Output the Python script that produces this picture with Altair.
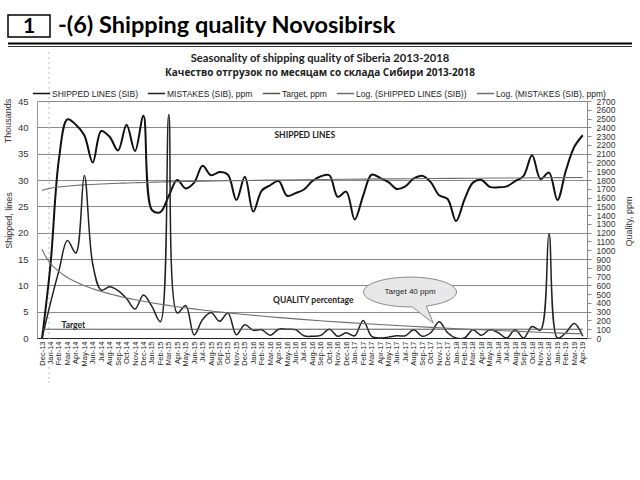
import altair as alt
import pandas as pd

# ---------------- data ----------------
MONTHS = [
    "Dec-13",
    "Jan-14", "Feb-14", "Mar-14", "Apr-14", "May-14", "Jun-14", "Jul-14", "Aug-14", "Sep-14", "Oct-14", "Nov-14", "Dec-14",
    "Jan-15", "Feb-15", "Mar-15", "Apr-15", "May-15", "Jun-15", "Jul-15", "Aug-15", "Sep-15", "Oct-15", "Nov-15", "Dec-15",
    "Jan-16", "Feb-16", "Mar-16", "Apr-16", "May-16", "Jun-16", "Jul-16", "Aug-16", "Sep-16", "Oct-16", "Nov-16", "Dec-16",
    "Jan-17", "Feb-17", "Mar-17", "Apr-17", "May-17", "Jun-17", "Jul-17", "Aug-17", "Sep-17", "Oct-17", "Nov-17", "Dec-17",
    "Jan-18", "Feb-18", "Mar-18", "Apr-18", "May-18", "Jun-18", "Jul-18", "Aug-18", "Sep-18", "Oct-18", "Nov-18", "Dec-18",
    "Jan-19", "Feb-19", "Mar-19", "Apr-19",
]

# shipped lines, thousands (left axis)
SHIPPED_K = [
    0, 14, 34, 41.5, 40.5, 38.5, 33.3, 39.3, 38.2, 35.6, 40.5, 35.5, 42.2,
    24.3, 23.9, 27, 30, 28.4, 29.5, 32.7, 30.9, 31.5, 31, 26.2, 30.6,
    24, 28, 29, 29.8, 27, 27.5, 28.2, 29.8, 30.7, 30.9, 26.8, 27.8,
    22.5, 27, 31, 30.4, 29.6, 28.3, 28.8, 30.3, 30.8, 29.6, 27.1, 26.4,
    22.2, 26.3, 29.5, 30, 28.7, 28.6, 28.8, 29.8, 30.8, 34.7, 30.2, 31.4,
    26.2, 31.8, 36.3, 38.5,
]

# mistakes, ppm (right axis)
MISTAKES_PPM = [
    0, 400, 770, 1110, 968, 1850, 840, 546, 584, 540, 450, 330, 490,
    360, 186, 2545, 285, 370, 35, 210, 290, 190, 285, 38, 150,
    87, 95, 30, 100, 100, 95, 25, 20, 30, 100, 20, 60,
    25, 200, 20, 0, 10, 25, 25, 95, 20, 60, 185, 60,
    0, 0, 95, 30, 95, 60, 0, 95, 0, 130, 90, 1190,
    0, 60, 165, 20,
]

TARGET_PPM = 100

SERIES = [
    "SHIPPED LINES (SIB)",
    "MISTAKES (SIB), ppm",
    "Target, ppm",
    "Log. (SHIPPED LINES (SIB))",
    "Log. (MISTAKES (SIB), ppm)",
]
COLORS = ["#111111", "#222222", "#555555", "#6e6e6e", "#6e6e6e"]

LEFT_TICKS = list(range(0, 46, 5))
RIGHT_TICKS = list(range(0, 2701, 100))

HEADER_NUM = "1"
HEADER_TEXT = "-(6) Shipping quality Novosibirsk"
TITLE_EN = "Seasonality of shipping quality of Siberia 2013-2018"
TITLE_RU = "Качество отгрузок по месяцам со склада Сибири 2013-2018"

FONT = "Liberation Sans"
HFONT = "Lato"

df = pd.DataFrame({
    "i": list(range(1, len(MONTHS) + 1)),
    "month": MONTHS,
    "ship": SHIPPED_K,
    "mist": MISTAKES_PPM,
    "target": [TARGET_PPM] * len(MONTHS),
})

# plot area in page pixels: x 37..587, y 101..338
PL, PT, PW, PH = 37, 101, 550, 237

js_months = "[" + ",".join("'" + m + "'" for m in MONTHS) + "]"

x_enc = alt.X(
    "i:Q",
    scale=alt.Scale(domain=[0.4, 65.5], nice=False, zero=False),
    axis=alt.Axis(
        values=list(range(1, len(MONTHS) + 1)),
        labelExpr=js_months + "[datum.value - 1]",
        labelAngle=270, labelFontSize=7.5, labelFont=FONT, labelColor="#222",
        labelPadding=3, labelOverlap=False, labelBound=False, labelFlush=False,
        tickSize=0, grid=False, title=None, domainColor="#222", domainWidth=1,
    ),
)

left_scale = alt.Scale(domain=[0, 45], nice=False)
left_axis = alt.Axis(
    values=LEFT_TICKS, grid=True, gridColor="#8a8a8a", gridWidth=1,
    tickSize=0, labelPadding=9, labelFontSize=9.5, labelFont=FONT, labelColor="#333",
    domainColor="#999", title="Shipped, lines", titleFont=FONT, titleFontSize=9,
    titleFontWeight="normal", titleColor="#333", titleAngle=270, titleX=-29, titleY=119,
    titleAlign="center", titleBaseline="middle",
)
right_scale = alt.Scale(domain=[0, 2700], nice=False)
right_axis = alt.Axis(
    orient="right", values=RIGHT_TICKS, format="d", grid=False, tickSize=4, tickColor="#888",
    labelPadding=5, labelFontSize=8.5, labelFont=FONT, labelColor="#333", labelOverlap=False,
    domainColor="#888", title="Quality, ppm", titleFont=FONT, titleFontSize=9,
    titleFontWeight="normal", titleColor="#333", titleAngle=270, titleX=41, titleY=120,
    titleAlign="center", titleBaseline="middle",
)

color_enc = alt.Color(
    "series:N",
    scale=alt.Scale(domain=SERIES, range=COLORS),
    legend=alt.Legend(title=None),
)


def tag(chart, name):
    return chart.transform_calculate(series="'" + name + "'")


base = alt.Chart(df)
SMOOTH = "catmull-rom"

ship_line = tag(base, SERIES[0]).mark_line(interpolate=SMOOTH, strokeWidth=2, clip=True).encode(
    x=x_enc, y=alt.Y("ship:Q", scale=left_scale, axis=left_axis), color=color_enc
)
ship_trend = tag(base.transform_regression("i", "ship", method="log"), SERIES[3]).mark_line(
    strokeWidth=1.1, clip=True
).encode(x=x_enc, y=alt.Y("ship:Q", scale=left_scale, axis=left_axis), color=color_enc)

ann_left = pd.DataFrame({
    "i": [32.1, 33.1, 4.7],
    "ship": [38.5, 7.2, 2.4],
    "t": ["SHIPPED LINES", "QUALITY percentage", "Target"],
})
ann_left_chart = alt.Chart(ann_left).mark_text(
    font=HFONT, fontWeight="bold", fontSize=8.5, color="#222", align="center", baseline="middle"
).encode(x=x_enc, y=alt.Y("ship:Q", scale=left_scale, axis=left_axis), text="t:N")

left_group = alt.layer(ship_line, ship_trend, ann_left_chart)

mist_line = tag(base, SERIES[1]).mark_line(interpolate=SMOOTH, strokeWidth=1.5, clip=True).encode(
    x=x_enc, y=alt.Y("mist:Q", scale=right_scale, axis=right_axis), color=color_enc
)
target_line = tag(base, SERIES[2]).mark_line(strokeWidth=1, clip=True).encode(
    x=x_enc, y=alt.Y("target:Q", scale=right_scale, axis=right_axis), color=color_enc
)
mist_trend = tag(base.transform_regression("i", "mist", method="log"), SERIES[4]).mark_line(
    strokeWidth=1.1, clip=True
).encode(x=x_enc, y=alt.Y("mist:Q", scale=right_scale, axis=right_axis), color=color_enc)

callout = pd.DataFrame({"i": [44.55], "mist": [524], "t": ["Target 40 ppm"]})
CALLOUT_PATH = ("M -1 0 A 1 0.32 0 0 1 1 0 A 1 0.32 0 0 1 0.35 0.30 "
                "L 0.5 0.67 L 0.05 0.32 A 1 0.32 0 0 1 -1 0 Z")
callout_shape = alt.Chart(callout).mark_point(
    shape=CALLOUT_PATH, size=93 * 93, filled=True, fill="#e8e8e8", stroke="#8a8a8a",
    strokeWidth=1, opacity=1
).encode(x=x_enc, y=alt.Y("mist:Q", scale=right_scale, axis=right_axis))
callout_text = alt.Chart(callout).mark_text(
    font=FONT, fontSize=8, color="#222", align="center", baseline="middle"
).encode(x=x_enc, y=alt.Y("mist:Q", scale=right_scale, axis=right_axis), text="t:N")

right_group = alt.layer(mist_line, target_line, mist_trend, callout_shape, callout_text)


# ---------------- decorations (page furniture) ----------------
def px(x):
    return alt.value(x - PL)


def py(y):
    return alt.value(y - PT)


one = alt.Data(values=[{"t": ""}])

box = alt.Chart(one).mark_rect(filled=False, stroke="#000", strokeWidth=1.5).encode(
    x=px(8), x2=px(50), y=py(15), y2=py(37)
)
num = alt.Chart(alt.Data(values=[{"t": HEADER_NUM}])).mark_text(
    font=HFONT, fontWeight="bold", fontSize=21, color="#000", align="center", baseline="middle"
).encode(x=px(29), y=py(27), text="t:N")
head = alt.Chart(alt.Data(values=[{"t": HEADER_TEXT}])).mark_text(
    font=HFONT, fontWeight="bold", fontSize=23.5, color="#000", align="left", baseline="alphabetic"
).encode(x=px(58), y=py(33), text="t:N")
uline1 = alt.Chart(one).mark_rule(color="#000", strokeWidth=2.2).encode(
    x=px(8), x2=px(632), y=py(43.5)
)
uline2 = alt.Chart(one).mark_rule(color="#000", strokeWidth=0.8).encode(
    x=px(8), x2=px(632), y=py(46.5)
)
t1 = alt.Chart(alt.Data(values=[{"t": TITLE_EN}])).mark_text(
    font=HFONT, fontWeight="bold", fontSize=11.2, color="#222", align="center", baseline="middle"
).encode(x=px(320), y=py(58.5), text="t:N")
t2 = alt.Chart(alt.Data(values=[{"t": TITLE_RU}])).mark_text(
    font="Open Sans", fontWeight="bold", fontSize=10, color="#222", align="center", baseline="middle"
).encode(x=px(320), y=py(72.5), text="t:N")
thousands = alt.Chart(alt.Data(values=[{"t": "Thousands"}])).mark_text(
    font=FONT, fontSize=9, color="#333", angle=270, align="center", baseline="middle"
).encode(x=px(8), y=py(121), text="t:N")
dotted = alt.Chart(one).mark_rule(color="#bdbdbd", strokeWidth=1, strokeDash=[2, 3]).encode(
    x=px(49), y=py(52), y2=py(383)
)

chart = alt.layer(
    dotted, left_group, right_group, box, num, head, uline1, uline2, t1, t2, thousands
).resolve_scale(y="independent").properties(
    width=PW, height=PH,
    padding={"left": PL, "top": PT, "right": 640 - PL - PW, "bottom": 480 - PT - PH},
    autosize=alt.AutoSizeParams(type="none"),
    background="white",
).configure_view(stroke=None).configure_legend(
    orient="none", legendX=-5, legendY=-17, direction="horizontal", columns=5,
    symbolType="stroke", symbolSize=300, symbolStrokeWidth=1.5,
    labelFontSize=8.5, labelFont=FONT, labelColor="#222", labelOffset=1,
    columnPadding=6, padding=0,
)

chart.save("out.html", embed_options={"renderer": "svg", "actions": False})
